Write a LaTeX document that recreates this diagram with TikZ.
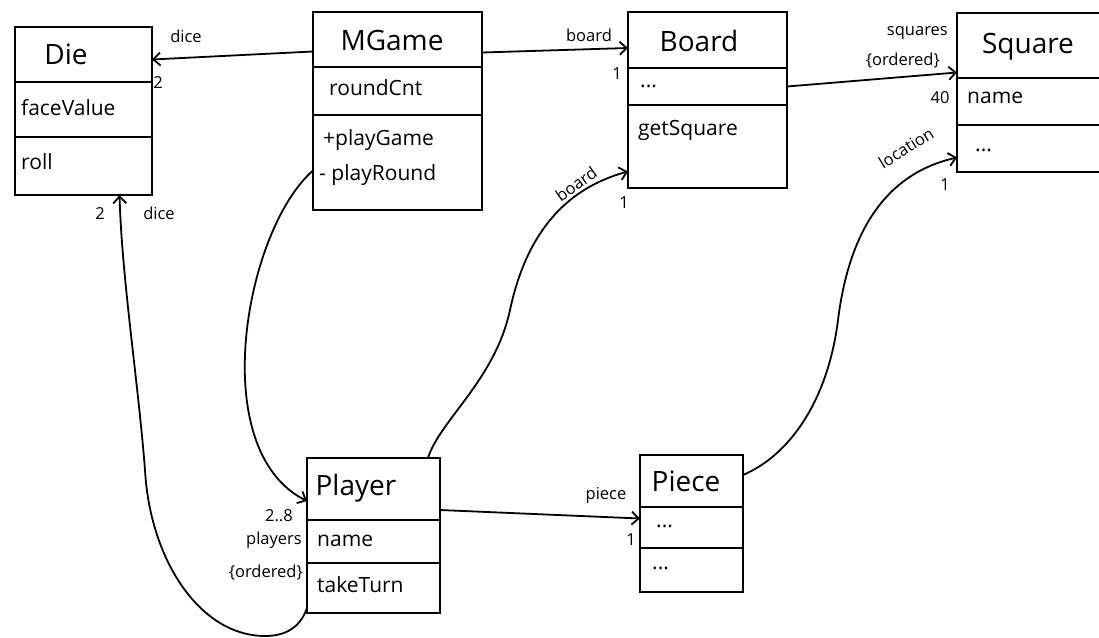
\documentclass[tikz,border=0pt]{standalone}
\usepackage{fontspec}
\setmainfont{Open Sans}
\usetikzlibrary{arrows.meta}
\begin{document}
\begin{tikzpicture}[x=1pt,y=-1pt,
  box/.style={draw, line width=2pt, anchor=north west, inner sep=0pt, outer sep=0pt},
  ttl/.style={font=\fontsize{28}{32}\selectfont, inner sep=0pt},
  mem/.style={font=\fontsize{21}{26}\selectfont, anchor=west, inner sep=0pt},
  lbl/.style={font=\fontsize{16.5}{18}\selectfont, inner sep=0pt},
  conn/.style={line width=1.8pt, -{Straight Barb[length=7pt,width=13pt,line width=1.8pt]}}]
\useasboundingbox (0,0) rectangle (1099,637);
% Die
\node[box, minimum width=137pt, minimum height=55pt] (dieT) at (15,27) {};
\node[box, minimum width=137pt, minimum height=55pt] (dieA) at (15,82) {};
\node[box, minimum width=137pt, minimum height=58pt] (dieO) at (15,137) {};
\node[ttl] (dieTt) at (66,54) {Die};
\node[mem] (dieAt) at (21,108) {faceValue};
\node[mem] (dieOt) at (21,162) {roll};
% MGame
\node[box, minimum width=169pt, minimum height=55pt] (mgT) at (313,12) {};
\node[box, minimum width=169pt, minimum height=48pt] (mgA) at (313,67) {};
\node[box, minimum width=169pt, minimum height=95pt] (mgO) at (313,115) {};
\node[ttl] (mgTt) at (392,40) {MGame};
\node[mem] (mgAt) at (329,88) {roundCnt};
\node[mem] (mgO1) at (323,140) {+playGame};
\node[mem] (mgO2) at (319,175) {- playRound};
% Board
\node[box, minimum width=159pt, minimum height=56pt] (bdT) at (628,12) {};
\node[box, minimum width=159pt, minimum height=37pt] (bdA) at (628,68) {};
\node[box, minimum width=159pt, minimum height=83pt] (bdO) at (628,105) {};
\node[ttl] (bdTt) at (699,41) {Board};
\node[mem] (bdAt) at (640,86) {...};
\node[mem] (bdOt) at (638,130) {getSquare};
% Square
\node[box, minimum width=160pt, minimum height=65pt] (sqT) at (957,13) {};
\node[box, minimum width=160pt, minimum height=47pt] (sqA) at (957,78) {};
\node[box, minimum width=160pt, minimum height=47pt] (sqO) at (957,125) {};
\node[ttl] (sqTt) at (1028,47) {Square};
\node[mem] (sqAt) at (967,98) {name};
\node[mem] (sqOt) at (975,150) {...};
% Player
\node[box, minimum width=133pt, minimum height=62pt] (plT) at (307,458) {};
\node[box, minimum width=133pt, minimum height=43pt] (plA) at (307,520) {};
\node[box, minimum width=133pt, minimum height=50pt] (plO) at (307,563) {};
\node[ttl] (plTt) at (356,488) {Player};
\node[mem] (plAt) at (317,541) {name};
\node[mem] (plOt) at (317,585) {takeTurn};
% Piece
\node[box, minimum width=103pt, minimum height=52pt] (pcT) at (640,455) {};
\node[box, minimum width=103pt, minimum height=41pt] (pcA) at (640,507) {};
\node[box, minimum width=103pt, minimum height=44pt] (pcO) at (640,548) {};
\node[ttl] (pcTt) at (686,481) {Piece};
\node[mem] (pcAt) at (656,526) {...};
\node[mem] (pcOt) at (652,568) {...};
% connectors
\draw[conn] ([yshift=-12pt]mgT.west) -- ([yshift=-5pt]dieT.east);
\draw[conn] ([yshift=-13pt]mgT.east) -- ([yshift=-8pt]bdT.west);
\draw[conn] (bdA.east) -- ([yshift=-27pt]sqT.west);
\draw[conn] ([yshift=-21pt]plT.east) -- ([yshift=9pt]pcA.west);
\draw[conn] ([yshift=-8pt]mgO.west) .. controls (245,230) and (205,450) .. ([yshift=-12pt]plT.west);
\draw[conn] ([yshift=5pt]plO.south west) .. controls (300,628) and (285,636) .. (265,636)
  .. controls (200,636) and (150,560) .. (145,470)
  .. controls (138,380) and (122,280) .. ([xshift=36pt]dieO.south);
\draw[conn] ([xshift=-12pt]plT.north east) .. controls (440,420) and (495,380) .. (510,310)
  .. controls (525,240) and (560,190) .. ([yshift=-25pt]bdO.west);
\draw[conn] ([yshift=6pt]pcT.east) .. controls (790,455) and (828,400) .. (838,320)
  .. controls (848,240) and (880,175) .. ([yshift=-9pt]sqO.west);
% labels
\node[lbl] (l1) at (186,36) {dice};
\node[lbl] (l2) at (158,83) {2};
\node[lbl] (l3) at (100,214) {2};
\node[lbl] (l4) at (159,213) {dice};
\node[lbl] (l5) at (589,35) {board};
\node[lbl] (l6) at (617,74) {1};
\node[lbl, anchor=east] (l7) at (948,33) {squares};
\node[lbl, anchor=east] (l8) at (940,61) {\{ordered\}};
\node[lbl] (l9) at (940,98) {40};
\node[lbl, rotate=35] (l10) at (576,184) {board};
\node[lbl] (l11) at (624,203) {1};
\node[lbl, rotate=32] (l12) at (906,148) {location};
\node[lbl] (l13) at (945,185) {1};
\node[lbl] (l14) at (606,495) {piece};
\node[lbl] (l15) at (631,540) {1};
\node[lbl, anchor=east] (l16) at (293,516) {2..8};
\node[lbl, anchor=east] (l17) at (302,540) {players};
\node[lbl, anchor=east] (l18) at (303,573) {\{ordered\}};
\end{tikzpicture}
\end{document}
